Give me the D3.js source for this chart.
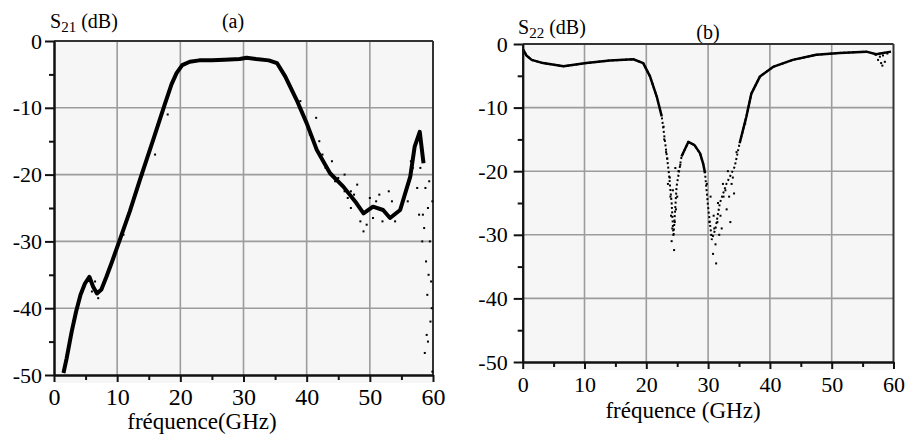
<!DOCTYPE html>
<html><head><meta charset="utf-8">
<script src="https://cdn.jsdelivr.net/npm/d3@7"></script>
<style>
body{margin:0;background:#fff}
text{font-family:"Liberation Serif","DejaVu Serif","Times New Roman",serif;fill:#000}
</style>
</head><body><svg id="c" width="905" height="437"></svg>
<script>
// ---- data ----
const xTicks=[0,10,20,30,40,50,60];
const xTickLabels=["0","10","20","30","40","50","60"];
const xMinor=[5,15,25,35,45,55];
const yTicks=[0,-10,-20,-30,-40,-50];
const yTickLabels=["0","-10","-20","-30","-40","-50"];
const yMinor=[-5,-15,-25,-35,-45];

// (a) S21 main trace
const freqA=[1.5,2.0,2.8,3.5,4.2,4.9,5.6,6.2,6.8,7.5,8.3,9.2,10.4,12.0,13.6,15.7,17.6,18.6,19.4,20.3,21.5,23,25,27,29.4,30.5,32,34,35.3,36.6,38.4,40.0,41.6,43.7,45.8,47.9,49.0,50.5,52.1,53.2,54.8,56.4,57.1,57.9,58.5];
const s21=[-49.7,-47.5,-43.5,-40.5,-38,-36.3,-35.3,-36.8,-37.8,-37.2,-35.3,-33,-29.8,-25.5,-20.8,-14.8,-9.3,-6.5,-4.8,-3.6,-3.1,-2.9,-2.9,-2.8,-2.7,-2.5,-2.7,-2.9,-3.3,-5.3,-8.8,-12.3,-16.3,-19.8,-21.8,-24.3,-25.8,-24.8,-25.3,-26.5,-25.3,-20.3,-15.8,-13.6,-18.3];
// (a) scattered measurement points
const noiseFreqA=[37,39,40.5,41.5,42,42.5,43,44,44.5,45,46,46,46.5,47,47,47.5,48,48.5,49,49.5,50,50.5,51,51.5,52,53,53.5,54,55.5,56,56.5,57.5,57.8,58.0,56.8,58.3,58.8,59.2,58.6,59.5,58.9,59.7,59.1,59.8,59.4,59.9,59.6,59.2,58.7,59.9,59.0,58.4,59.3,6.5,7.0,6.0,11,14,16,18];
const noiseS21=[-6,-9,-14,-11.5,-15,-17,-19,-18,-21,-20.5,-20,-22.5,-23.5,-22.5,-25,-23,-21.5,-27,-28.5,-27.5,-23.5,-26.5,-24,-23,-27,-22.5,-24,-27,-23,-24,-18,-22,-26,-19,-19,-30,-22,-25,-28,-30,-33,-36,-38,-40,-21,-24,-42,-45,-46.7,-49.5,-44,-26,-35,-36,-38.5,-37.5,-29,-20,-17,-11];

// (b) S22 main trace
const freqB=[0.1,0.6,1.45,3.3,6.6,10.3,14.1,17.9,19.5,20.6,21.7,22.5,23.0,23.6,24.1,24.4,24.9,25.7,26.8,27.8,28.7,29.2,29.5,30.0,30.6,31.2,31.9,33.0,34.3,35.1,36.2,37.0,38.4,40.5,43.7,47.5,51.3,55.6,57.2,59.6];
const s22=[-0.9,-1.8,-2.5,-3.0,-3.5,-3.0,-2.6,-2.4,-3.0,-5.1,-8.3,-11.4,-15.1,-19.8,-25.0,-30.3,-22.4,-17.7,-15.4,-15.9,-17.2,-18.8,-20.3,-25.6,-30.8,-29,-25.0,-21.9,-19.3,-15.6,-11.4,-7.8,-5.1,-3.6,-2.5,-1.7,-1.4,-1.2,-1.6,-1.2];
// (b) scattered measurement points
const noiseFreqB=[22.8,23.2,23.5,23.8,24.0,24.2,24.5,24.6,24.8,23.9,24.3,25.2,25.0,25.5,24.7,23.4,22.9,24.1,29.8,30.2,30.4,30.8,31.3,31.0,31.5,32,32.5,32.2,33,33.4,33.8,33.2,34,32.8,31.8,34.6,35.5,36,31.6,32.4,33.6,34.2,30.9,31.2,57.5,58,57.8,58.3,58.6,57.1,59,58.2];
const noiseS22=[-13,-17,-22,-21,-27,-29,-32.4,-28,-26,-24,-23,-20,-24,-19,-19.5,-18,-15,-31,-22,-28,-24,-33,-34.5,-29,-28,-27,-24,-29,-26,-24,-22,-20,-21,-23,-30,-17,-14,-12.5,-25,-22,-28,-23.5,-27,-31.5,-2.5,-3,-2,-1.8,-2.8,-1.7,-1.5,-3.4];

const svg=d3.select("#c");
const FONT='"Liberation Serif","DejaVu Serif","Times New Roman",serif';

function panel(cfg){
  const x=d3.scaleLinear().domain([0,60]).range([cfg.x0,cfg.x1]);
  const y=d3.scaleLinear().domain([-50,0]).range([cfg.y1,cfg.y0]);
  const g=svg.append("g");
  g.append("rect").attr("x",cfg.x0).attr("y",cfg.y0).attr("width",cfg.x1-cfg.x0).attr("height",cfg.y1-cfg.y0+8).attr("fill","#f6f6f6");
  // grid
  g.selectAll(".vg").data(xTicks.slice(1,-1)).join("line")
    .attr("x1",d=>x(d)).attr("x2",d=>x(d)).attr("y1",cfg.y0).attr("y2",cfg.y1)
    .attr("stroke","#9c9c9c").attr("stroke-width",1.6);
  g.selectAll(".hg").data(yTicks.slice(1,-1)).join("line")
    .attr("y1",d=>y(d)).attr("y2",d=>y(d)).attr("x1",cfg.x0).attr("x2",cfg.x1)
    .attr("stroke","#9c9c9c").attr("stroke-width",1.6);
  // frame top/right
  g.append("line").attr("x1",cfg.x0).attr("x2",cfg.x1).attr("y1",cfg.y0).attr("y2",cfg.y0).attr("stroke","#333").attr("stroke-width",2);
  g.append("line").attr("x1",cfg.x1).attr("x2",cfg.x1).attr("y1",cfg.y0).attr("y2",cfg.y1).attr("stroke","#333").attr("stroke-width",2);
  // data
  const pts=cfg.fx.map((f,i)=>[f,cfg.fy[i]]);
  const line=d3.line().x(d=>x(d[0])).y(d=>y(d[1]));
  if(cfg.sparse){
    g.append("path").datum(pts).attr("d",line)
      .attr("fill","none").attr("stroke","#000").attr("stroke-width",2).attr("stroke-dasharray","2 2.5");
    g.append("path").datum(pts).attr("d",line.defined(d=>!cfg.sparse.some(r=>d[0]>r[0]&&d[0]<r[1])))
      .attr("fill","none").attr("stroke","#000").attr("stroke-width",cfg.sw).attr("stroke-linejoin","round");
  } else {
    g.append("path").datum(pts).attr("d",line)
      .attr("fill","none").attr("stroke","#000").attr("stroke-width",cfg.sw).attr("stroke-linejoin","round");
  }
  g.selectAll(".nz").data(cfg.nx.map((f,i)=>[f,cfg.ny[i]])).join("rect")
    .attr("x",d=>x(d[0])-1).attr("y",d=>y(d[1])-1).attr("width",2).attr("height",2).attr("fill","#000");
  // axes
  const ax=g.append("g").attr("transform",`translate(${cfg.x0},0)`)
    .call(d3.axisLeft(y).tickValues(yTicks).tickFormat((d,i)=>yTickLabels[i]).tickSize(9).tickSizeOuter(0).tickPadding(cfg.ypad));
  const axm=g.append("g").attr("transform",`translate(${cfg.x0},0)`)
    .call(d3.axisLeft(y).tickValues(yMinor).tickFormat("").tickSize(5).tickSizeOuter(0));
  const bx=g.append("g").attr("transform",`translate(0,${cfg.y1})`)
    .call(d3.axisBottom(x).tickValues(xTicks).tickFormat((d,i)=>xTickLabels[i]).tickSize(7).tickSizeOuter(0).tickPadding(cfg.xpad));
  const bxm=g.append("g").attr("transform",`translate(0,${cfg.y1})`)
    .call(d3.axisBottom(x).tickValues(xMinor).tickFormat("").tickSize(5).tickSizeOuter(0));
  [ax,axm,bx,bxm].forEach(a=>{
    a.attr("font-family",FONT).attr("font-size",22);
    a.selectAll("path,line").attr("stroke","#111").attr("stroke-width",2);
  });
  bx.selectAll("text").attr("font-size",cfg.xfs);
  // titles
  const t=g.append("text").attr("x",cfg.tx).attr("y",cfg.ty).attr("font-size",20);
  t.append("tspan").text("S");
  t.append("tspan").attr("font-size",15).attr("dy",4).text(cfg.sub);
  t.append("tspan").attr("dy",-4).text(" (dB)");
  g.append("text").attr("x",cfg.lx).attr("y",cfg.ly).attr("font-size",20).attr("text-anchor","middle").text(cfg.letter);
  g.append("text").attr("x",cfg.xlx).attr("y",cfg.xly).attr("font-size",23).attr("text-anchor","middle").text(cfg.xlabel);
}

panel({x0:54,x1:433,y0:41,y1:375,fx:freqA,fy:s21,nx:noiseFreqA,ny:noiseS21,sw:4,
  ypad:3,xpad:6,xfs:24,tx:50,ty:28,sub:"21",lx:233,ly:28,letter:"(a)",
  xlx:202,xly:429,xlabel:"fréquence(GHz)"});
panel({x0:522.7,x1:893.5,y0:44,y1:362,fx:freqB,fy:s22,nx:noiseFreqB,ny:noiseS22,sw:2.5,
  sparse:[[22.8,25.5],[29.6,35.0]],
  ypad:6,xpad:7,xfs:22,tx:518,ty:34,sub:"22",lx:708,ly:39,letter:"(b)",
  xlx:683,xly:418,xlabel:"fréquence (GHz)"});
</script></body></html>
